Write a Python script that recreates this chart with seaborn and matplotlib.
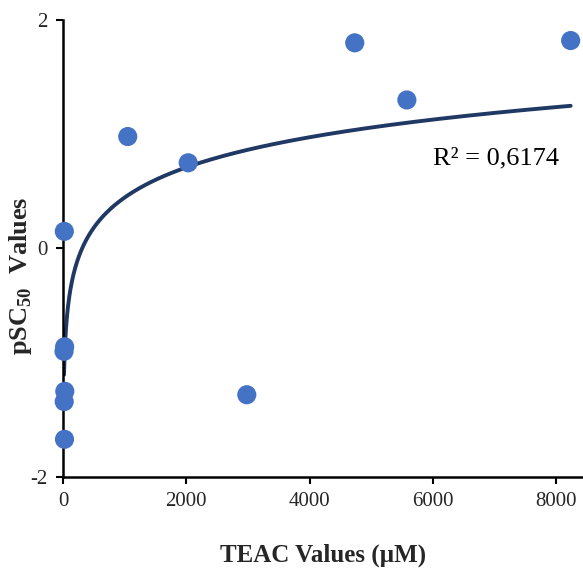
import numpy as np
import pandas as pd
import matplotlib
matplotlib.use("Agg")
import matplotlib.pyplot as plt
import seaborn as sns

# Data
teac = [22, 27, 17, 30, 20, 25, 1050, 2030, 2980, 4730, 5575, 8230]
psc50 = [0.15, -0.86, -0.90, -1.25, -1.34, -1.67, 0.98, 0.75, -1.28, 1.80, 1.30, 1.82]
r2_label = "R² = 0,6174"
xticks = [0, 2000, 4000, 6000, 8000]
yticks = [-2, 0, 2]

df = pd.DataFrame({"TEAC": teac, "pSC50": psc50})

sns.set_theme(style="white")
plt.rcParams["font.family"] = ["Liberation Serif", "DejaVu Serif"]
plt.rcParams["mathtext.fontset"] = "custom"
plt.rcParams["mathtext.rm"] = "Liberation Serif"
plt.rcParams["mathtext.bf"] = "Liberation Serif:bold"

fig = plt.figure(figsize=(5.83, 5.71), dpi=100)
ax = fig.add_axes([0.108, 0.1646, 0.892, 0.8004])

# logarithmic trendline fitted to the data
lx = np.log(df["TEAC"].values)
a, b = np.polyfit(lx, df["pSC50"].values, 1)
xs = np.linspace(df["TEAC"].min(), df["TEAC"].max(), 2000)
trend = pd.DataFrame({"x": xs, "y": a * np.log(xs) + b})
sns.lineplot(data=trend, x="x", y="y", ax=ax, color="#203864", linewidth=2.8, zorder=2)

sns.scatterplot(data=df, x="TEAC", y="pSC50", ax=ax, color="#4472C4", s=190,
                edgecolor="none", zorder=3, clip_on=False)

ax.set_xlim(0, 8430)
ax.set_ylim(-2, 2)
ax.set_xticks(xticks)
ax.set_yticks(yticks)
ax.set_xticklabels([str(t) for t in xticks], fontsize=15)
ax.set_yticklabels([str(t) for t in yticks], fontsize=15)
ax.tick_params(axis="both", direction="out", length=5, width=1.5, color="black",
               bottom=True, left=True, pad=6)

for s in ["top", "right"]:
    ax.spines[s].set_visible(False)
for s in ["left", "bottom"]:
    ax.spines[s].set_color("black")
    ax.spines[s].set_linewidth(1.8)

ax.set_xlabel("TEAC Values (µM)", fontsize=18, fontweight="bold", labelpad=23)
ax.set_ylabel(r"pSC$_{\mathbf{50}}$  Values", fontsize=19, fontweight="bold")
ax.yaxis.set_label_coords(-0.056, 0.44)

ax.text(0.712, 0.683, r2_label, transform=ax.transAxes, fontsize=19,
        color="black", va="baseline")

fig.savefig("out.png", dpi=100)
